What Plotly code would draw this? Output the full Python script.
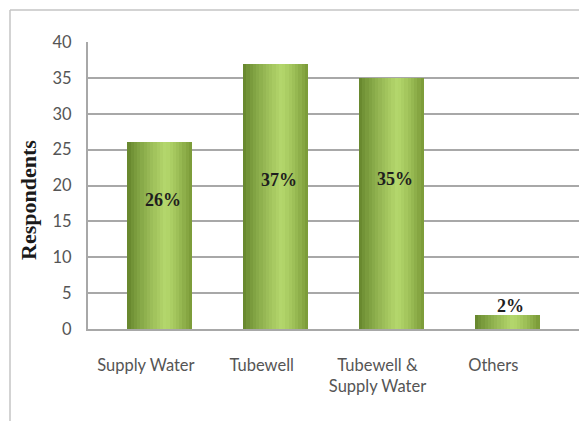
import plotly.graph_objects as go

categories = ["Supply Water", "Tubewell", "Tubewell &<br>Supply Water", "Others"]
respondents = [26, 37, 35, 2]
pct_labels = ["26%", "37%", "35%", "2%"]
label_y = [18.0, 20.7, 20.9, 3.2]
y_ticks = [0, 5, 10, 15, 20, 25, 30, 35, 40]

W, H = 579, 421
L, R, T, B = 88, 0, 42, 92

def hex2rgb(h):
    h = h.lstrip("#")
    return tuple(int(h[i:i+2], 16) for i in (0, 2, 4))

def lerp(c1, c2, t):
    a, b = hex2rgb(c1), hex2rgb(c2)
    return "rgb(%d,%d,%d)" % tuple(round(a[i] + (b[i] - a[i]) * t) for i in range(3))

left_c, peak_c, right_c = "#62822a", "#b4d76c", "#789836"
bar_w = 0.56
bar_shift = 0.12
n = 20
sw = bar_w / n
peak = 0.58

fig = go.Figure()
for i in range(n):
    f = (i + 0.5) / n
    if f <= peak:
        t = f / peak
        col = lerp(left_c, peak_c, t ** 0.8)
    else:
        t = (f - peak) / (1 - peak)
        col = lerp(peak_c, right_c, t ** 1.3)
    fig.add_trace(go.Bar(
        x=list(range(len(categories))), y=respondents,
        width=sw * 1.05, offset=bar_shift - bar_w / 2 + i * sw,
        marker=dict(color=col, line=dict(width=0)),
        hoverinfo="skip", showlegend=False,
    ))

for i, (lab, yy) in enumerate(zip(pct_labels, label_y)):
    fig.add_annotation(x=i + bar_shift + 0.03, y=yy, text="<b>%s</b>" % lab, showarrow=False,
                       font=dict(family="Liberation Serif", size=18, color="#1e1e1e"))

pw, ph = W - L - R, H - T - B
fig.add_annotation(xref="paper", yref="paper", xanchor="center", yanchor="middle",
                   x=(28 - L) / pw, y=1 - (200 - T) / ph,
                   text="<b>Respondents</b>", textangle=-90, showarrow=False,
                   font=dict(family="Liberation Serif", size=22, color="#1a1a1a"))

x0 = (10 - L) / pw
y1 = 1 + (T - 10) / ph
fig.add_shape(type="line", xref="paper", yref="paper", x0=x0, x1=x0, y0=-B / ph, y1=y1,
              line=dict(color="#c4c4c4", width=1.5))
fig.add_shape(type="line", xref="paper", yref="paper", x0=x0, x1=1.0, y0=y1, y1=y1,
              line=dict(color="#c4c4c4", width=1.5))

fig.update_layout(
    width=W, height=H, margin=dict(l=L, r=R, t=T, b=B),
    paper_bgcolor="white", plot_bgcolor="white", barmode="overlay", bargap=0,
    xaxis=dict(range=[-0.5, 3.74], tickmode="array", tickvals=list(range(len(categories))),
               ticktext=categories, showgrid=False, zeroline=False, showline=True,
               linecolor="#a8a8a8", linewidth=2, ticks="", ticklabelstandoff=20,
               tickfont=dict(family="Lato", size=16.5, color="#555555")),
    yaxis=dict(range=[0, 40], tickvals=y_ticks, showgrid=True, gridcolor="#a8a8a8", gridwidth=2,
               zeroline=False, showline=True, linecolor="#a8a8a8", linewidth=2, ticks="",
               ticklabelstandoff=11,
               tickfont=dict(family="Lato", size=16.5, color="#555555")),
)

fig.write_html("out.html")
